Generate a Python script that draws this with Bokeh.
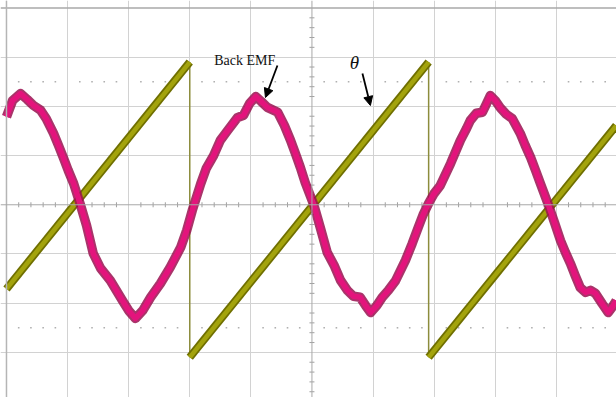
from bokeh.plotting import figure
from bokeh.models import Range1d, Grid, FixedTicker, Span, Arrow, NormalHead, Label
from bokeh.embed import file_html
from bokeh.resources import INLINE
import math

# ---- data (screen divisions: x = time div, y = vertical div, centre = 0) ----
# Back EMF trace (centre of the noisy band)
emf_t = [0.00, 0.10, 0.23, 0.34, 0.44, 0.56, 0.65, 0.77, 0.85, 0.93, 1.01, 1.10, 1.21,
         1.31, 1.42, 1.54, 1.70, 1.90, 2.00, 2.11, 2.23, 2.36, 2.52, 2.68, 2.85, 2.95, 3.04,
         3.18, 3.27, 3.39, 3.50, 3.62, 3.78, 3.88, 3.98, 4.08, 4.17, 4.27, 4.44, 4.55, 4.65,
         4.73, 4.81, 4.89, 5.03, 5.14, 5.25, 5.37, 5.47, 5.58, 5.68, 5.79, 5.88, 5.96, 6.06,
         6.15, 6.25, 6.37, 6.53, 6.64, 6.74, 6.82, 6.91, 7.00, 7.10, 7.27, 7.43, 7.53, 7.59,
         7.69, 7.79, 7.86, 7.92, 8.00, 8.09, 8.18, 8.28, 8.41, 8.49, 8.58, 8.66, 8.74, 8.87,
         8.97, 9.07, 9.15, 9.23, 9.31, 9.39, 9.48, 9.56, 9.64, 9.75, 9.85, 9.92, 9.98]
emf_v = [1.79, 2.12, 2.26, 2.14, 2.02, 1.92, 1.75, 1.45, 1.21, 0.96, 0.70, 0.43, 0.00,
         -0.42, -0.99, -1.29, -1.54, -1.95, -2.15, -2.31, -2.15, -1.88, -1.60, -1.27, -0.87, -0.52, -0.12,
         0.43, 0.74, 1.00, 1.31, 1.51, 1.77, 1.82, 2.06, 2.20, 2.10, 1.98, 1.88, 1.61, 1.31,
         1.04, 0.76, 0.45, 0.00, -0.48, -0.97, -1.25, -1.54, -1.74, -1.86, -1.88, -2.05, -2.19, -2.05,
         -1.88, -1.74, -1.54, -1.13, -0.79, -0.46, -0.20, 0.03, 0.23, 0.39, 0.84, 1.31, 1.55, 1.71,
         1.86, 1.88, 2.06, 2.22, 2.12, 1.96, 1.84, 1.75, 1.45, 1.21, 0.96, 0.70, 0.43, 0.00,
         -0.36, -0.73, -0.97, -1.19, -1.44, -1.68, -1.78, -1.74, -1.80, -2.01, -2.19, -2.07, -1.95]

# Rotor angle theta (sawtooth ramps)
theta_t0 = [0.00, 3.00, 6.91]
theta_t1 = [3.00, 6.91, 9.98]
theta_v0 = [-1.71, -3.10, -3.10]
theta_v1 = [2.90, 2.90, 1.61]
# resets (vertical drops)
reset_t = [3.00, 6.91]

# ---- figure ----
W, H = 616, 397
p = figure(width=W, height=H, output_backend="svg", toolbar_location=None,
           x_axis_type=None, y_axis_type=None,
           min_border_left=0, min_border_right=0, min_border_top=0, min_border_bottom=0)
p.x_range = Range1d(-0.098, 9.985)
p.y_range = Range1d(-3.917, 4.152)
p.outline_line_color = None
p.background_fill_color = "white"
p.border_fill_color = "white"

# grid
p.add_layout(Grid(dimension=0, ticker=FixedTicker(ticks=[0, 1, 2, 3, 4, 6, 7, 8, 9]),
                  grid_line_color="#d2d2d2", grid_line_width=1))
p.add_layout(Grid(dimension=1, ticker=FixedTicker(ticks=[-3, -2, -1, 1, 2, 3]),
                  grid_line_color="#d2d2d2", grid_line_width=1))
# top and left borders
p.add_layout(Span(location=4, dimension="width", line_color="#a9a9a9", line_width=1.5))
p.add_layout(Span(location=0, dimension="height", line_color="#b5b5b5", line_width=1.5))
# centre axes
p.add_layout(Span(location=0, dimension="width", line_color="#a8a8a8", line_width=1))
p.add_layout(Span(location=5, dimension="height", line_color="#a8a8a8", line_width=1))

# minor ticks on centre axes
hx = [k / 5 for k in range(0, 50) if k % 5 != 0]
p.scatter(hx, [0] * len(hx), marker="dash", angle=math.pi / 2, size=5,
          line_color="#a0a0a0", line_width=1)
vy = [k / 5 for k in range(-19, 21) if k % 5 != 0]
p.scatter([5] * len(vy), vy, marker="dash", size=5, line_color="#a0a0a0", line_width=1)

# dotted reference rows
p.scatter(hx, [2.5] * len(hx), marker="square", size=1.6, line_color=None, fill_color="#b0b0b0")
p.scatter(hx, [-2.5] * len(hx), marker="square", size=1.6, line_color=None, fill_color="#b0b0b0")

# theta sawtooth
p.segment(x0=reset_t, y0=[2.9] * len(reset_t), x1=reset_t, y1=[-3.1] * len(reset_t),
          line_color="#8c8c3c", line_width=1.5)
p.segment(x0=theta_t0, y0=theta_v0, x1=theta_t1, y1=theta_v1,
          line_color="#6f6f00", line_width=8)
p.segment(x0=theta_t0, y0=theta_v0, x1=theta_t1, y1=theta_v1,
          line_color="#a3a30c", line_width=4.5)

# back EMF
p.line(emf_t, emf_v, line_color="#9a1050", line_width=9.5, line_join="round", alpha=0.85)
p.line(emf_t, emf_v, line_color="#e3147c", line_width=5.5, line_join="round")

# annotations
p.add_layout(Label(x=3.40, y=2.79, text="Back EMF", text_font="Liberation Serif",
                   text_font_size="14px", text_color="#111111"))
p.add_layout(Arrow(end=NormalHead(size=9, fill_color="black", line_color="black"),
                   x_start=4.435, y_start=2.83, x_end=4.239, y_end=2.18,
                   line_color="black", line_width=1.8))
p.add_layout(Label(x=5.62, y=2.67, text="θ", text_font="Liberation Serif",
                   text_font_style="italic", text_font_size="19px", text_color="#111111"))
p.add_layout(Arrow(end=NormalHead(size=9, fill_color="black", line_color="black"),
                   x_start=5.826, y_start=2.669, x_end=5.957, y_end=2.018,
                   line_color="black", line_width=1.8))

open("out.html", "w").write(file_html(p, INLINE))
